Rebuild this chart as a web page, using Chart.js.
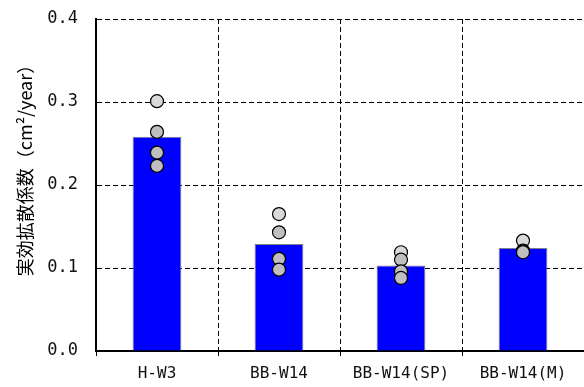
<!DOCTYPE html>
<html>
<head>
<meta charset="utf-8">
<script src="https://cdn.jsdelivr.net/npm/chart.js@4.4.1/dist/chart.umd.min.js"></script>
<style>
  html, body { margin: 0; padding: 0; background: #fff; }
</style>
</head>
<body>
<canvas id="diffChart" width="584" height="387"></canvas>
<script>
/* effective diffusion coefficient per specimen: bar = mean, circles = samples */

const categories = ["H-W3", "BB-W14", "BB-W14(SP)", "BB-W14(M)"];
const meanValues = [0.258, 0.129, 0.103, 0.124];
const firstSample = [0.301, 0.165, 0.119, 0.133];
const otherSamples = [
    [0.264, 0.239, 0.223],
    [0.143, 0.111, 0.098],
    [0.110, 0.096, 0.088],
    [0.121, 0.120, 0.119]
];
const yTicks = [0.0, 0.1, 0.2, 0.3, 0.4];
const yTitle = "実効拡散係数（cm²/year）";

const monoFont = "'DejaVu Sans Mono', monospace";

const lightPts = categories.map((c, i) => ({ x: c, y: firstSample[i] }));
const grayPts = [];
categories.forEach((c, i) => {
    otherSamples[i].forEach(v => grayPts.push({ x: c, y: v }));
});

function pointSet(data, fill) {
    return {
        type: "line",
        data: data,
        showLine: false,
        pointRadius: 6.5,
        pointHoverRadius: 6.5,
        pointBackgroundColor: fill,
        pointBorderColor: "#000",
        pointBorderWidth: 1.2,
        order: 1
    };
}

// vertical axis title, sits a bit above the axis middle
const yTitlePlugin = {
    id: "yTitle",
    afterDraw(chart) {
        const ctx = chart.ctx;
        ctx.save();
        ctx.translate(25, 166);
        ctx.rotate(-Math.PI / 2);
        ctx.font = "18px 'Noto Sans CJK JP', sans-serif";
        ctx.fillStyle = "#000";
        ctx.textAlign = "center";
        ctx.textBaseline = "middle";
        ctx.fillText(yTitle, 0, 0);
        ctx.restore();
    }
};

new Chart(document.getElementById("diffChart"), {
    type: "bar",
    data: {
        labels: categories,
        datasets: [
            {
                data: meanValues,
                backgroundColor: "#0000ff",
                borderColor: "#808080",
                borderWidth: 1,
                categoryPercentage: 1,
                barPercentage: 0.4,
                order: 3
            },
            pointSet(grayPts, "#bfbfbf"),
            pointSet(lightPts, "#d9d9d9")
        ]
    },
    plugins: [yTitlePlugin],
    options: {
        responsive: false,
        animation: false,
        layout: {
            autoPadding: false,
            padding: { top: 19, right: 0, left: 0, bottom: 0 }
        },
        plugins: {
            legend: { display: false },
            tooltip: { enabled: false }
        },
        scales: {
            x: {
                offset: true,
                grid: {
                    offset: true,
                    // first line sits on the solid y axis, leave it out
                    color: c => (c.index === 0 ? "rgba(0,0,0,0)" : "#000"),
                    lineWidth: 1,
                    tickBorderDash: [],
                    tickColor: "#000",
                    tickLength: 5
                },
                border: { display: true, color: "#000", width: 2, dash: [5, 3] },
                ticks: {
                    color: "#111",
                    font: { family: monoFont, size: 16 },
                    padding: 8,
                    maxRotation: 0,
                    autoSkip: false
                },
                afterFit: function (s) {
                    s.height = 36;
                    s.paddingLeft = 0;
                    s.paddingRight = 0;
                }
            },
            y: {
                min: 0,
                max: 0.4,
                afterBuildTicks: function (s) {
                    s.ticks = yTicks.map(v => ({ value: v }));
                },
                grid: {
                    color: "#000",
                    lineWidth: 1,
                    drawTicks: false
                },
                border: { display: true, color: "#000", width: 2, dash: [5, 3] },
                ticks: {
                    color: "#111",
                    font: { family: monoFont, size: 17 },
                    padding: 18,
                    callback: v => v.toFixed(1)
                },
                afterFit: function (s) {
                    s.width = 96;
                    s.paddingTop = 0;
                    s.paddingBottom = 0;
                }
            }
        }
    }
});
</script>
</body>
</html>
